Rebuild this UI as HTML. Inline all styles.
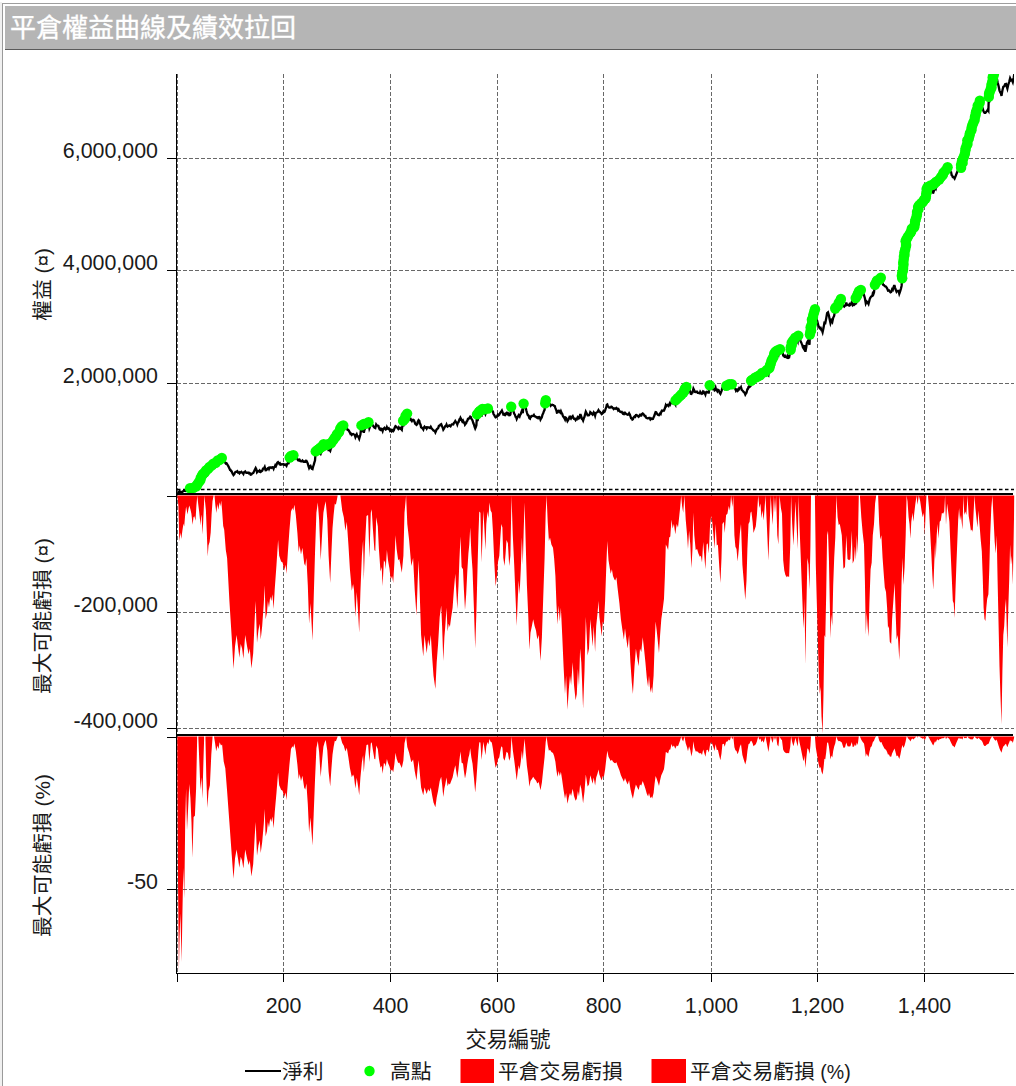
<!DOCTYPE html>
<html lang="zh-Hant">
<head>
<meta charset="utf-8">
<title>平倉權益曲線及績效拉回</title>
<style>
html,body{margin:0;padding:0;background:#fff;}
body{width:1016px;height:1086px;position:relative;overflow:hidden;font-family:"Liberation Sans","Noto Sans CJK TC",sans-serif;}
#frame{position:absolute;left:0;top:2px;width:2px;height:1086px;background:#f0f0f0;}
#win{position:absolute;left:2px;top:3px;width:1020px;height:1090px;background:#fff;border-left:1px solid #9a9a9a;border-top:1px solid #9e9e9e;box-sizing:border-box;}
#title{position:absolute;left:5px;top:6px;width:1011px;height:43px;background:#b5b5b5;border-bottom:1px solid #5a5a5a;color:#fff;font-size:26px;-webkit-text-stroke:0.35px #fff;line-height:44.5px;padding-left:5px;box-sizing:content-box;white-space:nowrap;letter-spacing:0px;}
svg{position:absolute;left:0;top:0;}
svg text{font-family:"Liberation Sans","Noto Sans CJK TC",sans-serif;font-size:21.4px;fill:#1a1a1a;}
</style>
</head>
<body>
<div id="frame"></div>
<div id="win"></div>
<div id="title">平倉權益曲線及績效拉回</div>
<svg width="1016" height="1086" viewBox="0 0 1016 1086">
<defs><clipPath id="cp1"><rect x="177" y="74" width="837" height="421"/></clipPath>
<clipPath id="cp2"><rect x="177" y="495" width="837.5" height="239.5"/></clipPath>
<clipPath id="cp3"><rect x="177" y="736" width="837.5" height="237"/></clipPath></defs>
<g stroke="#686868" stroke-width="1" stroke-dasharray="3.5 2.5" shape-rendering="crispEdges"><line x1="177.5" y1="74" x2="177.5" y2="973"/><line x1="283.5" y1="74" x2="283.5" y2="973"/><line x1="390.5" y1="74" x2="390.5" y2="973"/><line x1="497.5" y1="74" x2="497.5" y2="973"/><line x1="603.5" y1="74" x2="603.5" y2="973"/><line x1="711.5" y1="74" x2="711.5" y2="973"/><line x1="817.5" y1="74" x2="817.5" y2="973"/><line x1="924.5" y1="74" x2="924.5" y2="973"/><line x1="177" y1="158.5" x2="1013.8" y2="158.5"/><line x1="177" y1="270.5" x2="1013.8" y2="270.5"/><line x1="177" y1="383.5" x2="1013.8" y2="383.5"/><line x1="177" y1="612.5" x2="1013.8" y2="612.5"/><line x1="177" y1="728.5" x2="1013.8" y2="728.5"/><line x1="177" y1="889.5" x2="1013.8" y2="889.5"/></g>
<line x1="177" y1="489.5" x2="1014" y2="489.5" stroke="#000" stroke-width="1.3" stroke-dasharray="3.5 2.5"/>
<path d="M177.3,495.6L177.3,495.6L178.4,505.6L179.3,541.2L180.5,532.4L181.3,538.9L182.4,530.6L183.5,523.5L184.2,526.5L185.2,514.5L186.1,506.5L186.8,510.2L187.5,514.5L188.4,509.3L189.3,505.6L190.4,509.3L191.4,513.8L192.6,524.7L193.5,517.2L194.4,516.3L195.5,520.8L196.4,505.6L197.3,495.6L198.2,504L199.2,512L200.6,525.6L201.2,514.5L201.7,518.1L202.6,534.4L203.5,514.5L204.4,495.6L205,501.3L205.9,510.2L206.8,532.4L207.7,556.6L208.5,545.5L209.6,542.1L210.7,532.4L211.6,514.5L212.5,501.3L213.6,495.6L214.5,495.6L215.4,505.6L216.4,512.9L217.3,504L218.3,509.7L219.2,504.7L219.8,502.2L220.5,506.5L221.2,500.4L222.1,510.2L223.2,526L224.2,529.7L225.8,550L227.1,558L229.4,601L231.7,637.3L233.5,669L235,646.4L236.6,635L238,646.4L239.4,657.7L240.7,644.1L242.1,648.6L243.4,658.8L245.2,635L247.1,646.4L248.6,654.3L249.8,648.6L251.4,668.6L253.2,653.2L254.8,616.9L255.7,601L257,643L258.4,630.5L259.7,623.7L260.7,639.6L262.2,626L263.8,603.3L264.7,585.2L265.6,619.2L267,612.4L267.9,601L269,607.8L270.2,596.5L271.3,601L272.4,594.2L273.6,609L274.7,589.7L276.5,564.8L278.1,539.9L279.2,555.7L281.1,561.4L282.6,562.5L284.2,570.4L285.6,564.8L286.5,573.8L287.8,553.4L289.4,530.8L291,511.5L292.4,508.1L293.3,510.4L294.4,504.7L295.8,514.9L297.4,533.1L298.7,552.3L299.6,545.5L301,554.6L302.4,547.8L304.2,563.6L305.3,565.9L306.4,558L307.8,585.2L309.1,623.7L310.5,603.3L312.5,640.7L313.7,598.8L315,553.4L316.4,512.7L317.8,502.5L319.1,519.5L320.7,560.2L322.3,530.8L323.4,512.7L324.6,505.9L325.7,501.3L327.3,519.5L328.6,555.7L330.2,582.9L331.4,553.4L332.5,528.5L333.6,514.9L334.8,503.6L335.9,504.7L337.7,495.6L339.3,495.6L340.4,495.6L342.2,510.4L343.8,517.2L345.4,530.8L346.8,521.7L348.4,544.4L349.9,569.3L351.8,590.8L353.1,584L354,589.7L355.4,616.9L356.7,592L358.1,612.4L359.2,632.8L360.4,592L361.9,555.7L363.1,539.9L363.8,580.6L364.9,546.7L366.5,516.1L368.1,514.9L369.4,558L370.8,512.7L371.7,509.3L372.8,527.4L374.4,550L375.3,551.2L376.2,517.2L377.8,526.3L378.9,548.9L380.5,571.6L381.7,567L382.6,586.3L383.9,560.2L385.1,562.5L385.7,569.3L386.9,550L388,560.2L389.4,568.2L390.7,579.5L392.1,576.1L393.2,582.9L394.4,562.5L395.5,535.3L396.6,548.9L398.2,560.2L399.3,559.1L400,562.5L401.8,572.7L403.4,555.7L404.5,512.7L406.1,495.6L407.3,524L409.1,539.9L411.3,565.9L413.1,558L414.7,589.7L416.5,615.8L417.7,580.6L418.6,560.2L419.9,598.8L421.1,635L422.2,646.4L423.3,656.6L424.5,635L425.6,644.1L426.7,653.2L428.1,639.6L429.5,646.4L430.8,635L432.2,657.7L433.5,675.8L435.4,689L436.7,662.2L438.1,644.1L439.7,616.9L441.2,605.6L442.1,626L443.3,661.1L444.4,637.3L445.3,626L446.5,607.8L447.6,631.6L448.7,623.7L449.9,627.1L451.2,616.9L452.6,607.8L453.9,589.7L455.3,573.8L456.2,589.7L457.3,609L458.5,585.2L459.4,560.2L460.5,536.5L461.6,567L463,569.3L463.9,589.7L465,610.1L466.2,594.2L467.3,571.6L468.4,553.4L469.3,544.4L470.2,527.4L471.4,553.4L472.5,569.3L473.9,607.8L475.2,648.6L476.4,612.4L477.5,569.3L478.4,535.3L479.3,511.5L480.4,512.7L481.6,562.5L482.7,530.8L483.4,510.4L484.5,530.8L485.4,550L486.3,524L487.5,511.5L488.4,518.3L489.5,502.5L490.6,510.4L491.8,512.7L492.9,530.8L494.3,562.5L495.6,586.3L497,576.1L497.9,562.5L499.3,555.7L500.2,539.9L501.3,524L502.4,527.4L503.3,558L504.5,565.9L505.6,553.4L506.5,539.9L507.9,543.3L509.2,565.9L510.4,555.7L511.5,495.6L512.8,535.3L514.2,564.8L515.6,598.8L516.7,626L517.8,598.8L518.7,580.6L519.6,594.2L520.8,569.3L521.9,537.6L522.8,564.8L523.7,530.8L524.6,502.5L525.8,546.7L526.9,585.2L528.3,616.9L529.4,649.8L530.5,632.8L531.9,626L533.2,619.2L534.6,626L536,630.5L537.3,639.6L538.7,635L540.5,661.1L541.9,637.3L543.2,598.8L544.6,558L545.7,512.7L546.6,495.6L547.7,521.7L548.9,541L550,537.6L551.4,544.4L553,547.8L554.1,558L555.4,576.1L556.4,603.3L557.5,624.8L558.6,605.6L559.8,621.4L560.9,607.8L562.2,635L563.6,666.8L565,693.9L566.1,675.8L567.5,709.8L568.8,689.4L570,675.8L571.1,684.9L572.7,662.2L574,684.9L575.6,700.3L576.8,693.9L577.9,669L579,686L580.1,648.6L581.3,662.2L583.1,708.7L584.5,671.3L585.8,616.9L586.7,635L587.6,655.4L589,648.6L590.3,619.2L591.7,635L592.6,646.4L593.7,626L595.1,652L596.2,626L597.6,612.4L598.5,601L599.4,616.9L600.5,626L601.7,636.2L602.8,621.4L603.9,623.7L605.1,601L606.2,569.3L607.3,541L608.5,560.2L609.8,568.2L610.7,573.8L611.9,569.3L613,576.1L614.4,579.5L615.3,580.6L616.4,577.2L617.5,587.4L619.4,603.3L620.9,619.2L622.5,630.5L623.9,639.6L625,628.2L626.4,639.6L627.7,648.6L629.1,635L630.4,662.2L631.8,682.6L632.9,693.9L634.5,666.8L635.9,648.6L637.2,657.7L638.6,666.3L640,648.6L641.3,652L642.7,637.3L644,648.6L645.4,662.2L646.8,678.1L648.1,687.1L649,675.8L650.4,692.8L651.3,687.1L652.2,693.5L653.6,675.8L654.5,648.6L655.6,621.4L656.7,630.5L658.1,644.1L659,653.2L660.1,635L661.3,619.2L662.6,610.1L664,598.8L664.9,576.1L665.8,544.4L666.9,546.7L668.1,550L669.2,537.6L670.3,536.5L671.5,519.5L672.6,528.5L673.9,524L675.3,534.2L676.7,524L678,527.4L678.9,519.5L680.1,508.1L681.2,495.6L682.1,505.9L683.2,512.7L684.4,495.6L685.7,519.5L687.1,535.3L688,548.9L689.1,530.8L690.3,544.4L691.4,568.2L692.5,548.9L693.4,512.7L694.3,535.3L695.7,550L697.1,548.9L698.4,553.4L699.8,556.8L700.9,555.7L702,562.5L703.2,542.1L704.3,555.7L705.4,569.3L706.6,544.4L707.7,543.3L708.8,553.4L710,526.3L711.1,516.1L712.2,521.7L713.4,534.2L714.5,548.9L715.6,524L716.8,545.5L717.9,544.4L719.3,567L720.4,582.9L721.5,558L722.4,524L723.8,521.7L724.7,533.1L726.1,514.9L727.4,513.8L728.8,505.9L729.9,510.4L731.1,495.6L732.4,507L733.3,495.6L734.4,535.3L735.4,546.7L736.5,548.9L737.6,561.4L738.8,548.9L739.9,533.1L741,524L742.4,564.8L743.7,580.6L745.3,599.9L746.5,580.6L747.4,548.9L748.5,524L749.6,521.7L750.5,512.7L751.4,511.5L752.6,521.7L753.5,533.1L754.6,529.7L755.8,526.3L756.9,514.9L758.2,495.6L759.4,508.1L760.5,503.6L761.4,518.3L762.5,510.4L763.7,520.6L764.6,508.1L765.5,495.6L766.6,519.5L767.5,539.9L768.4,560.7L769.6,526.3L770.7,495.6L771.8,512.7L772.7,525.1L773.9,495.6L775,512.7L776.1,495.6L777.3,535.3L778.4,544.4L779.5,495.6L780.9,508.1L782,513.8L783.2,560.2L784.3,570.4L785.4,575L786.8,577.2L787.9,576.1L789.1,577.2L790.2,546.7L791.1,495.6L792.2,524L793.4,545.5L794.5,524L795.4,501.3L796.5,524L797.7,548.9L798.6,495.6L799.5,526.3L800.6,553.4L801.8,585.2L802.9,614.6L803.8,628.2L804.5,598.8L805.4,664.5L806.3,612.4L807.4,558L808.5,564.8L809.5,589.7L810.4,546.7L811,495.6L814.9,495.6L815.8,564.8L816.7,598.8L817.6,630.5L818.7,671.3L819.7,693.9L820.6,687.1L821.5,716.6L822.6,733.6L823.5,693.9L824.4,635L825.3,637.3L826.2,594.2L827.1,535.3L828,530.8L828.9,558L829.8,603.3L830.5,638.4L831.4,614.6L832.3,626L833.2,585.2L834.2,558L835.3,537.6L836.4,495.6L837.6,517.2L838.7,525.1L839.8,524L841.8,535.3L843.4,568.8L845,567L846.3,535.3L847.5,559.1L849.1,560.2L850.4,559.1L851.8,530.8L852.7,563.6L854,560.2L854.9,546.6L855.9,560.2L856.8,535.3L857.7,553.4L858.8,495.6L859.9,495.6L861.3,517.2L862.7,533L864,544.4L864.9,580.6L865.8,635L866.7,612.3L867.6,625.9L868.5,636.8L869.4,603.3L870.6,569.3L871.7,562.5L872.8,535.3L874,524L875.1,503.6L876.2,495.6L878.1,495.6L879.2,524L880.3,539.8L881.4,535.3L882.6,558L883.9,576.1L884.8,587.4L886,591.9L887.1,607.8L888,628.2L888.9,625.9L889.8,641.8L891.2,644L892.1,619.1L893.5,598.7L894.6,582.9L895.7,614.6L896.6,639.5L897.8,635L899.3,660.3L900.5,625.9L901.6,580.6L902.5,558L903.4,585.1L904.6,567L905.7,535.3L906.6,495.6L907.5,501.3L908.6,517.2L909.5,524L910.4,538.7L911.3,521.7L912.5,512.7L913.4,521.7L914.3,512.7L915.4,503.6L916.6,495.6L917.5,504.7L918.8,495.6L920.2,501.3L921.5,510.4L922.7,517.2L923.8,512.7L924.7,535.3L925.6,512.7L926.5,495.6L927.9,495.6L929,508.1L930.1,530.8L931.3,553.4L932.4,576.1L933.3,589.7L934.2,564.7L935.1,542.1L935.8,559.1L936.7,535.3L937.6,524L938.5,538.7L939.7,521.7L940.8,520.6L941.9,512.7L943.1,513.8L944.2,511.5L945.1,495.6L946,525.1L947.1,503.6L948.3,512.7L949.4,521.7L950.5,548.9L951.7,576.1L952.8,601L953.7,603.3L954.6,618L955.5,589.7L956.4,564.7L957.3,542.1L958.2,519.4L959.1,508.1L960,520.6L961,514.9L961.9,524L962.5,529.6L963.4,495.6L964.3,514.9L965.3,511.5L966.4,514.9L967.5,495.6L968.7,516L969.8,522.8L970.9,530.8L972,529.6L972.7,531.9L973.6,512.7L974.5,495.6L975.4,508.1L976.6,519.4L977.5,527.4L978.4,510.4L979.5,524L980.7,539.8L981.8,551.2L982.7,576.1L983.6,607.8L984.5,619.1L985.4,620.9L986.3,607.8L987.2,598.7L988.4,594.2L989.3,569.3L990.2,535.3L991.3,508.1L992.4,495.6L993.6,519.4L994.7,542.1L995.8,553.4L996.7,535.3L997.6,580.6L998.6,625.9L999.5,666.7L1000.4,693.9L1001.5,724.4L1002.4,671.2L1003.3,635L1004.2,625.9L1005.1,607.8L1006,598.7L1006.7,625.9L1007.4,647.4L1008.3,607.8L1009.2,580.6L1010.1,544.4L1011,564.7L1011.9,555.7L1012.8,585.1L1013.7,535.3L1014.4,495.6L1014.3,495.6 L1014.3,495.6 Z" fill="#ff0000" clip-path="url(#cp2)"/>
<path d="M177.3,736.6L177.3,736.6L177.4,781.9L178.1,890.6L178.9,971.3L179.6,935.9L180.4,913.3L181.6,962L182.4,914L183.3,868L184.3,898.6L185.2,822.6L186.1,788.7L187,830.6L188.1,809L189.3,784.1L190.4,797.7L191.5,822.6L192.4,857.8L193.6,817L194.9,815.8L196.1,788.7L197.2,736.6L198.3,736.6L199.5,766L200.4,789.8L201.5,777.3L202.4,798.8L203.3,766L204.2,736.6L205.4,736.6L206.3,777.3L207.4,807.9L208.5,790.9L209.9,785.3L211.3,754.7L212.6,736.6L214,736.6L215.1,743.3L216.2,751.3L217.4,745.6L218.5,749L219.6,742.2L221,745.6L222.1,744.5L223.7,761.5L225.3,768.3L227.1,790.9L229.4,822.6L231.7,854.4L233.5,878.8L235,858.5L236.6,849.4L238,858.5L239.4,867.7L240.7,856.7L242.1,860.4L243.4,868.6L245.2,849.4L247.1,858.5L248.6,865L249.8,860.4L251.4,876.5L253.2,864L254.8,834.7L255.7,821.9L257,855.8L258.4,845.7L259.7,840.2L260.7,853L262.2,842L263.8,823.7L264.7,809L265.6,836.5L267,831L267.9,821.9L269,827.4L270.2,818.2L271.3,821.9L272.4,816.4L273.6,828.3L274.7,812.7L276.5,792.6L278.1,772.4L279.2,785.2L281.1,789.8L282.6,790.7L284.2,797.1L285.6,792.6L286.5,799.9L287.8,783.4L289.4,765.1L291,749L292.4,746.2L293.3,747.7L294.4,743.5L295.8,751.1L297.4,764.7L298.7,779.2L299.6,774.1L301,780.9L302.4,775.8L304.2,787.7L305.3,789.4L306.4,783.5L307.8,803.9L309.1,832.8L310.5,817.5L312.5,845.6L313.7,814.1L315,780.1L316.4,748.2L317.8,741.1L319.1,752L320.7,777L322.3,757.9L323.4,746.7L324.6,742.6L325.7,740L327.3,750.6L328.6,771.8L330.2,786.4L331.4,769L332.5,754.7L333.6,747L334.8,740.8L335.9,741.2L337.7,736.6L339.3,736.6L340.4,736.6L342.2,743L343.8,745.8L345.4,751.6L346.8,747.8L348.4,757.4L349.9,768.1L351.8,777.3L353.1,774.4L354,776.8L355.4,788.4L356.7,777.8L358.1,786.5L359.2,795.2L360.4,777.8L361.9,762.2L363.1,755.3L363.8,772.5L364.9,758L366.5,745.1L368.1,744.5L369.4,762.1L370.8,743.6L371.7,742.2L372.8,749.6L374.4,758.9L375.3,759.3L376.2,745.4L377.8,749.1L378.9,758.4L380.5,767.7L381.7,765.8L382.6,773.7L383.9,763L385.1,764L385.7,766.7L386.9,758.9L388,763L389.4,766.3L390.7,770.9L392.1,769.5L393.2,772.3L394.4,764L395.5,752.8L396.6,758.4L398.2,763L399.3,762.6L400,764L401.8,768.1L403.4,760.5L404.5,743.2L406.1,736.6L407.3,747L409.1,752.7L411.3,762.3L413.1,759.4L414.7,770.9L416.5,780.5L417.7,767.6L418.6,760.2L419.9,774.2L421.1,787.5L422.2,791.6L423.3,795.3L424.5,787.5L425.6,790.8L426.7,794.1L428.1,789.1L429.5,791.6L430.8,787.5L432.2,795.7L433.5,802.4L435.4,807.2L436.7,797.4L438.1,790.8L439.7,780.9L441.2,776.7L442.1,784.2L443.3,797L444.4,788.3L445.3,784.2L446.5,777.6L447.6,786.2L448.7,783.3L449.9,784.6L451.2,780.9L452.6,777.6L453.9,770.9L455.3,765.2L456.2,770.9L457.3,778L458.5,769.3L459.4,760.2L460.5,751.5L461.6,762.7L463,763.5L463.9,770.9L465,778.4L466.2,772.6L467.3,764.3L468.4,757.7L469.3,754.4L470.2,748.2L471.4,757.7L472.5,763.5L473.9,777.6L475.2,792.4L476.4,779.2L477.5,763.6L478.4,751L479.3,742.3L480.4,742.6L481.6,759.9L482.7,748.7L483.4,741.7L484.5,748.7L485.4,755.3L486.3,746.4L487.5,742.1L488.4,744.4L489.5,739L490.6,741.7L491.8,742.5L492.9,748.7L494.3,759.6L495.6,767.7L497,764.2L497.9,759.6L499.3,757.2L500.2,751.8L501.3,746.3L502.4,747.5L503.3,758L504.5,760.7L505.6,756.5L506.5,751.8L507.9,753L509.2,760.7L510.4,757.2L511.5,736.6L512.8,750L514.2,759.9L515.6,771.3L516.7,780.5L517.8,771.3L518.7,765.2L519.6,769.8L520.8,761.4L521.9,750.7L522.8,759.9L523.7,748L524.6,738.8L525.8,753.2L526.9,765.7L528.3,776L529.4,786.7L530.5,781.1L531.9,778.9L533.2,776.7L534.6,778.9L536,780.4L537.3,783.4L538.7,781.9L540.5,790.3L541.9,782.6L543.2,770.1L544.6,756.9L545.7,742L546.6,736.6L547.7,744.8L548.9,750.8L550,749.7L551.4,751.9L553,752.9L554.1,756.1L555.4,761.8L556.4,770.3L557.5,777.1L558.6,771L559.8,776L560.9,771.7L562.2,780.2L563.6,790.2L565,798.7L566.1,793L567.5,803.7L568.8,797.3L570,793L571.1,795.9L572.7,788.8L574,795.9L575.6,800.7L576.8,798.7L577.9,790.9L579,796.2L580.1,784.5L581.3,788.8L583.1,803.3L584.5,791.6L585.8,774.6L586.7,780.2L587.6,786.6L589,784.5L590.3,775.3L591.7,780.2L592.6,783.8L593.7,777.4L595.1,785.6L596.2,777.4L597.6,773.2L598.5,769.6L599.4,774.6L600.5,777.4L601.7,780.6L602.8,776L603.9,776.7L605.1,769.6L606.2,759.7L607.3,750.8L608.5,756.8L609.8,759.3L610.7,761.1L611.9,759.7L613,761.8L614.4,762.9L615.3,763.2L616.4,762.2L617.5,765.4L619.4,770.3L620.9,775.3L622.5,778.8L623.9,781.7L625,778.1L626.4,781.7L627.7,784.5L629.1,780.2L630.4,788.8L631.8,795.1L632.9,798.7L634.5,790.2L635.9,784.5L637.2,787.3L638.6,790L640,784.5L641.3,785.6L642.7,781L644,784.5L645.4,788.8L646.8,793.7L648.1,796.6L649,793L650.4,798.3L651.3,796.6L652.2,798.6L653.6,793L654.5,784.5L655.6,776L656.7,778.8L658.1,783.1L659,785.9L660.1,780.2L661.3,775.3L662.6,772.4L664,768.9L664.9,761.8L665.8,751.9L666.9,752.6L668.1,753.6L669.2,749.7L670.3,749.4L671.5,744.1L672.6,746.9L673.9,745.5L675.3,748.7L676.7,745.4L678,746.3L678.9,743.8L680.1,740.4L681.2,736.6L682.1,739.6L683.2,741.5L684.4,736.6L685.7,743.2L687.1,747.5L688,751.2L689.1,746.3L690.3,750L691.4,756.5L692.5,751.2L693.4,741.3L694.3,747.5L695.7,751.6L697.1,751.2L698.4,752.5L699.8,753.4L700.9,753.1L702,755L703.2,749.4L704.3,753.1L705.4,756.8L706.6,750L707.7,749.7L708.8,752.5L710,744.9L711.1,742.1L712.2,743.7L713.4,747L714.5,751L715.6,744.3L716.8,750.1L717.9,749.8L719.3,755.9L720.4,760.2L721.5,753.5L722.4,744.3L723.8,743.7L724.7,746.7L726.1,741.8L727.4,741.5L728.8,739.4L729.9,740.6L731.1,736.6L732.4,739.6L733.3,736.6L734.4,747.2L735.4,750.3L736.5,750.9L737.6,754.2L738.8,750.9L739.9,746.6L741,744.2L742.4,755.1L743.7,759.4L745.3,764.5L746.5,759.4L747.4,750.9L748.5,744.2L749.6,743.6L750.5,741.2L751.4,740.7L752.6,743.3L753.5,746.2L754.6,745.3L755.8,744.3L756.9,741.5L758.2,736.6L759.4,739.7L760.5,738.6L761.4,742.2L762.5,740.2L763.7,742.7L764.6,739.6L765.5,736.6L766.6,742.3L767.5,747.1L768.4,751.9L769.6,743.7L770.7,736.6L771.8,740.4L772.7,743L773.9,736.6L775,740.2L776.1,736.6L777.3,744.8L778.4,746.6L779.5,736.6L780.9,739.1L782,740.3L783.2,749.7L784.3,751.8L785.4,752.7L786.8,753.2L787.9,753L789.1,753.2L790.2,747L791.1,736.6L792.2,742.1L793.4,746.2L794.5,742L795.4,737.7L796.5,741.9L797.7,746.5L798.6,736.6L799.5,742.3L800.6,747.3L801.8,753.2L802.9,758.7L803.8,761.2L804.5,755.8L805.4,768L806.3,758.3L807.4,748.2L808.5,749.5L809.5,754.1L810.4,745.9L811,736.6L814.9,736.6L815.8,747.6L816.7,753L817.6,758.1L818.7,764.6L819.7,768.2L820.6,767.1L821.5,771.8L822.6,774.5L823.5,768.2L824.4,758.8L825.3,759.2L826.2,752.3L827.1,742.9L828,742.2L828.9,746.5L829.8,753.8L830.5,759.4L831.4,755.6L832.3,757.4L833.2,750.9L834.2,746.5L835.3,743.3L836.4,736.6L837.6,740L838.7,741.2L839.8,740.9L841.8,742.6L843.4,747.7L845,747.4L846.3,742.6L847.5,746.2L849.1,746.4L850.4,746.2L851.8,741.9L852.7,746.9L854,746.4L854.9,744.3L855.9,746.3L856.8,742.5L857.7,745.1L858.8,736.6L859.9,736.6L861.3,739.7L862.7,742L864,743.6L864.9,748.9L865.8,756.7L866.7,753.4L867.6,755.4L868.5,757L869.4,752.1L870.6,747.2L871.7,746.3L872.8,742.3L874,740.7L875.1,737.7L876.2,736.6L878.1,736.6L879.2,740.5L880.3,742.6L881.4,742L882.6,745.1L883.9,747.6L884.8,749.1L886,749.7L887.1,751.9L888,754.7L888.9,754.3L889.8,756.5L891.2,756.8L892.1,753.4L893.5,750.6L894.6,748.5L895.7,752.8L896.6,756.2L897.8,755.6L899.3,759L900.5,754.3L901.6,748.2L902.5,745L903.4,748.1L904.6,745.4L905.7,741.3L906.6,736.6L907.5,737.3L908.6,739.1L909.5,739.8L910.4,741.5L911.3,739.5L912.5,738.5L913.4,739.5L914.3,738.5L915.4,737.5L916.6,736.6L917.5,737.6L918.8,736.6L920.2,737.2L921.5,738.1L922.7,738.8L923.8,738.3L924.7,740.6L925.6,738.3L926.5,736.6L927.9,736.6L929,737.8L930.1,740L931.3,742.1L932.4,744.3L933.3,745.5L934.2,743.2L935.1,741L935.8,742.6L936.7,740.3L937.6,739.3L938.5,740.6L939.7,739L940.8,738.9L941.9,738.2L943.1,738.3L944.2,738.1L945.1,736.6L946,739.3L947.1,737.3L948.3,738.1L949.4,739L950.5,741.4L951.7,743.9L952.8,746.1L953.7,746.3L954.6,747.6L955.5,745.1L956.4,742.8L957.3,740.8L958.2,738.8L959.1,737.7L960,738.9L961,738.3L961.9,739.1L962.5,739.6L963.4,736.6L964.3,738.3L965.3,738L966.4,738.2L967.5,736.6L968.7,738.3L969.8,738.8L970.9,739.5L972,739.3L972.7,739.5L973.6,737.9L974.5,736.6L975.4,737.6L976.6,738.4L977.5,739L978.4,737.7L979.5,738.7L980.7,739.9L981.8,740.8L982.7,742.6L983.6,745L984.5,745.9L985.4,746L986.3,745L987.2,744.3L988.4,744L989.3,742L990.2,739.5L991.3,737.5L992.4,736.6L993.6,738.3L994.7,739.9L995.8,740.7L996.7,739.4L997.6,742.6L998.6,745.7L999.5,748.6L1000.4,750.5L1001.5,752.7L1002.4,748.9L1003.3,746.4L1004.2,745.7L1005.1,744.5L1006,743.8L1006.7,745.7L1007.4,747.3L1008.3,744.5L1009.2,742.6L1010.1,740L1011,741.5L1011.9,740.8L1012.8,742.9L1013.7,739.4L1014.4,736.6L1014.3,736.6 L1014.3,736.6 Z" fill="#ff0000" clip-path="url(#cp3)"/>
<g clip-path="url(#cp1)">
<polyline points="177.3,494 179.5,491.2 181.5,492.3 184,490.7 186,491.1 188.5,489.6 189.3,489.8 190,487.9 190.4,489.6 191.4,489.5 192,490.2 192.6,490.4 193.5,489.6 193.5,487.7 194.4,489.6 194.9,488.7 195.5,489 196.4,487.4 196.5,486.7 197.3,485 198.2,484 198.6,482.9 199.2,482.4 199.9,482.6 200.6,481 200.7,477.7 201.2,478.7 201.7,478.2 202.6,478.7 203,473.7 203.5,475.3 204.4,472.5 205,472.1 205.9,472.1 206,470.2 206.8,472.9 207.7,474.5 208.5,472.9 209.5,466.9 209.6,471.3 210.2,470.6 210.7,469.5 211.6,466.9 212.5,465.2 213.3,464 213.6,463.4 214.5,463 215.4,463.2 216.4,463.4 217.3,461.8 217.7,460.3 218.3,461.9 219.2,460.2 219.8,459.8 220.5,460.1 221.2,458.6 221.8,458 222.1,459 223.2,461.1 224.2,461.5 225,462.4 225.8,463.6 226.5,463.3 227.1,464.2 227.7,465.2 228.3,466.2 228.8,467.1 229.4,468.4 230,469.9 230.5,469.9 231.1,471.1 231.7,471.3 232.3,473.1 232.9,474 233.5,475.1 234.3,474.2 235,472.4 235.8,471.8 236.6,471.6 237.3,471.1 238,472.5 238.7,472.5 239.4,473.3 240,472.2 240.7,472.5 241.4,471.9 242.1,472.6 242.8,473.1 243.4,474 244,472.2 244.6,472.1 245.2,471.5 245.9,472.5 246.5,472.8 247.1,472.8 247.9,472.5 248.6,473.2 249.2,472.8 249.8,473.1 250.6,474.6 251.4,474.4 252,473.6 252.6,473.2 253.2,473 254,471.4 254.8,469.8 255.7,468 256.4,469.3 257,472.2 257.7,471.4 258.4,471.1 259.1,471.5 259.7,470.5 260.7,471.9 261.4,471.4 262.2,470.7 263,468.7 263.8,468.7 264.7,466.9 265.6,470.2 266.3,470.1 267,469.2 267.9,468.1 268.5,467.8 269,468.9 269.6,467.5 270.2,467.4 270.7,467.4 271.3,467.9 271.9,467.6 272.4,467.2 273,467.3 273.6,468.7 274.1,467.3 274.7,467 275.3,465.4 275.9,466.2 276.5,464.8 277.3,462.8 278.1,462.1 278.7,462.8 279.2,463.7 279.8,463.3 280.4,464.8 281.1,464.7 281.8,464.3 282.6,464.4 283.4,464.1 284.2,464.9 284.9,464.7 285.6,464.5 286.5,465.8 287.2,463.9 287.8,463.2 288.6,463.3 289.4,461.4 289.7,457.2 290.4,457.9 291,457.8 291.7,457.7 292.4,457.4 293.3,457 293.4,455.4 294.4,455.9 295.1,456.3 295.8,456.8 296.6,458.4 297.4,458.8 298,460.3 298.7,460.5 299.6,459.8 300.3,461 301,461.3 301.7,461.2 302.4,460.5 303,461.3 303.6,461.7 304.2,461.5 304.7,461.9 305.3,461.9 305.9,460.7 306.4,460.8 307.1,462.1 307.8,463.6 308.5,466.1 309.1,467.9 309.8,466.5 310.5,465.9 311.2,467.7 311.9,468.8 312.5,469.1 313.1,466.7 313.7,464.9 314.4,462.4 315,460.5 315.7,451.5 316.4,452.9 317.1,452.2 317.8,450.6 318.3,450.1 318.9,449.3 319.1,450.8 319.9,452.6 320.7,453.8 321.5,451.8 322.3,449.2 322.9,447.5 323.4,445.9 323.6,444.5 324.6,445.2 325.1,445.6 325.7,445.2 326.5,445.5 327.3,446.5 328.3,444.7 328.6,450 329.4,449.9 330.2,450.9 330.8,448.6 331.4,447.7 331.9,446.3 332.5,443.8 333.1,440.7 333.6,441.8 334.2,440.3 334.8,438.4 335.3,437.7 335.9,436.5 336.4,434.5 337,434.5 337.7,433 338.5,431.6 339.3,430.5 340.2,428.5 340.4,428.7 341,428.9 341.6,427.5 342.2,427.7 343.3,425.2 343.8,427.3 344.6,428.3 345.4,428.6 346.1,428.2 346.8,427.6 347.6,429.9 348.4,430 349.1,431.2 349.9,432.6 350.5,434 351.1,433.7 351.8,434.9 352.4,434.3 353.1,434 354,434.5 354.7,434.8 355.4,437.1 356.1,435.3 356.7,434.3 357.4,436.3 358.1,436.4 358.7,437.6 359.2,438.8 359.8,436.8 360.4,434.6 361.4,425.4 361.9,431 362.5,430.6 363.1,428.7 363.8,432.8 364.3,430.4 364.9,428.8 365.4,424.1 366.5,425.3 367.3,425 368.1,424.6 368.5,422.6 369.4,428.3 370.1,426.4 370.8,424 371.7,423.6 372.3,424.9 372.8,425.3 373.6,426.5 374.4,427.5 375.3,428 376.2,424.5 377,425.6 377.8,425.6 378.4,425.9 378.9,427.5 379.7,429.5 380.5,429.9 381.1,428.7 381.7,428.9 382.6,431 383.2,428.9 383.9,428.3 384.5,427.8 385.1,428.9 385.7,429.6 386.3,429.3 386.9,427.3 387.4,428.5 388,428.7 388.7,428.2 389.4,429.6 390,430.8 390.7,430.2 391.4,431.2 392.1,430 392.7,430.4 393.2,431.1 393.8,430.4 394.4,428.5 394.9,427.3 395.5,426.1 396.1,426.5 396.6,427.2 397.4,427.6 398.2,428.7 398.8,427.5 399.3,428.5 400,428.7 400.6,428.1 401.2,429.1 401.8,429.8 402.5,425.2 403.1,420.4 403.4,426.3 404,423.3 404.5,419.9 405.5,415.7 406.1,414.9 407.1,413.2 407.3,416.6 407.9,416.4 408.5,416.6 409.1,417.8 409.6,419.4 410.2,419.8 410.8,419.2 411.3,420.1 411.9,421 412.5,420 413.1,419.8 413.9,420.3 414.7,422.3 415.3,423.9 415.9,424.2 416.5,424.9 417.1,424.4 417.7,421.9 418.6,420.1 419.3,420.8 419.9,423.8 420.5,424.4 421.1,427.3 421.6,427.5 422.2,428 422.8,428.7 423.3,429.5 423.9,427.6 424.5,426.8 425,427.5 425.6,427.7 426.2,427.5 426.7,428.5 427.4,427.2 428.1,427.3 428.8,427.4 429.5,428 430.1,428.1 430.8,426.9 431.5,428.1 432.2,429 432.9,429.8 433.5,430.6 434.1,430.9 434.7,430.8 435.4,432.4 436,431.1 436.7,429.4 437.4,428.7 438.1,428.3 438.9,425.8 439.7,425.6 440.4,424.6 441.2,424.2 442.1,426.4 442.7,427.6 443.3,429.6 443.8,428.8 444.4,427.7 445.3,426.1 445.9,426 446.5,424.6 447,425.9 447.6,426.6 448.2,426 448.7,425.6 449.3,425.3 449.9,425.9 450.5,426.3 451.2,425.1 451.9,424.2 452.6,424.1 453.3,424.3 453.9,423 454.6,422.3 455.3,421 456.2,422.5 456.8,423.2 457.3,424.5 457.9,422.7 458.5,422.2 459.4,419.6 459.9,419.7 460.5,417.9 461.1,419.1 461.6,420.3 462.3,421.6 463,420.6 463.9,422.6 464.5,422.6 465,424.6 465.6,423.8 466.2,423.1 466.7,421.4 467.3,420.9 467.9,419 468.4,419 469.3,418 470.2,416.6 470.8,417 471.4,418.8 471.9,419.5 472.5,420.5 473.2,422.8 473.9,424.5 474.6,426.9 475.2,428.5 475.8,427.1 476.4,425.2 477,414.3 477.5,420.9 478.4,417.2 479.3,413.3 479.9,413.6 480.4,412.7 481,413.5 481.6,416.5 482.4,409.3 482.7,412.5 483.4,410.5 484,411.9 484.5,411.9 485.4,414 486.3,411.4 486.9,411.4 487.5,410.3 487.9,408.8 488.4,410.8 488.9,410.8 489.5,409.3 490.1,410 490.6,409.7 491.2,409 491.8,409.9 492.3,410.7 492.9,411.6 493.6,414.1 494.3,415 494.9,416.4 495.6,417.4 496.3,417.1 497,416.3 497.9,414.6 498.6,415.3 499.3,414.5 500.2,412.8 500.7,412.1 501.3,411.4 501.9,410.5 502.4,411.8 503.3,414.3 503.9,414 504.5,415.1 505,415.2 505.6,413.8 506.5,413 507.2,414 507.9,413.1 508.5,413.9 509.2,415.3 509.8,415.2 510.4,414.5 511.2,406.9 511.5,406.9 512.2,407.8 512.8,410.4 513.5,411.5 514.2,413.7 514.9,414.7 515.6,416.8 516.1,417 516.7,419 517.3,417.6 517.8,416.9 518.7,415.2 519.6,416.5 520.2,414.7 520.8,413.9 521.3,412.3 521.9,410.8 522.8,413.2 523.6,403.9 523.7,406.8 524.6,404.6 525.2,407.3 525.8,408.1 526.3,410.3 526.9,412.5 527.6,414.8 528.3,415.3 528.8,416.4 529.4,418.2 530,418.6 530.5,416.6 531.2,416.7 531.9,415.9 532.6,415.9 533.2,415.9 533.9,415 534.6,416.4 535.3,416.4 536,416.9 536.6,417.5 537.3,417.3 538,418.1 538.7,417 539.3,416.9 539.9,417.6 540.5,419.6 541.2,418.3 541.9,417.1 542.5,414.6 543.2,413.4 543.9,411.2 544.6,409.9 545.2,402.8 545.7,402.5 545.8,400.5 546.6,399.9 547.2,402.4 547.7,402.9 548.3,404.5 548.9,404.4 549.4,404.1 550,404.2 550.7,405.7 551.4,405 552.2,404.8 553,405.2 553.5,405.2 554.1,405.9 554.8,406.2 555.4,408.2 556.4,410.4 556.9,412.6 557.5,412.5 558.1,411.2 558.6,410.8 559.2,410.9 559.8,412.2 560.3,412.7 560.9,411.3 561.6,413 562.2,413.8 562.9,416.1 563.6,417.1 564.3,418.1 565,419.5 565.5,417.5 566.1,417.8 566.8,419.1 567.5,421.1 568.1,420.2 568.8,418.7 569.4,417.2 570,417.9 570.5,417.2 571.1,418.4 571.9,417 572.7,416.1 573.4,417.9 574,418.8 574.8,418.7 575.6,420.1 576.2,419.2 576.8,419.4 577.3,417.9 577.9,416.7 578.5,417 579,418.3 579.6,417.7 580.1,415 580.7,415 581.3,416.6 581.9,418.9 582.5,419.2 583.1,420.5 583.8,418.3 584.5,416.8 585.1,414.2 585.8,411.6 586.7,413.4 587.6,415.4 588.3,415.4 589,415.3 589.7,414.1 590.3,412.1 591,412.7 591.7,413.7 592.6,414.6 593.2,413.4 593.7,412.4 594.4,413.5 595.1,415.7 595.7,413.2 596.2,412.8 596.9,412.4 597.6,411.8 598.5,410.1 599.4,411.7 600,411.8 600.5,412.7 601.1,413.1 601.7,414.1 602.2,413.8 602.8,412.6 603.4,411.4 603.9,412.2 604.5,411.9 605.1,410.7 605.6,408.8 606.2,407.4 606.8,404.8 607.3,404.5 607.9,406.4 608.5,406.7 609.2,407.6 609.8,407.6 610.7,407.5 611.3,406.7 611.9,407 612.4,407.7 613,408.1 613.7,409.1 614.4,408.5 615.3,408.5 615.8,408.8 616.4,408 617,408.7 617.5,408.7 618.1,410.2 618.7,409.5 619.4,410.9 620.1,411.7 620.9,412 621.7,411.8 622.5,413 623.2,414 623.9,414.2 624.4,412.7 625,412.7 625.7,413.6 626.4,414.2 627,414.3 627.7,414.7 628.4,414.5 629.1,413.3 629.8,414.5 630.4,416.2 631.1,418.3 631.8,418.4 632.4,419.6 632.9,419.3 633.7,417.4 634.5,416.5 635.2,416.9 635.9,415.1 636.6,415 637.2,415.5 637.9,416.2 638.6,416.8 639.3,415.6 640,414.8 640.6,415.5 641.3,415.6 642,414 642.7,413.5 643.4,414.1 644,414.9 644.7,416 645.4,416 646.1,417.7 646.8,418 647.4,418.3 648.1,418.4 649,418 649.7,418 650.4,419.5 651.3,418.5 652.2,419.1 652.9,419 653.6,417.4 654.5,415.3 655,413.6 655.6,412.1 656.2,412.2 656.7,413.1 657.4,414.2 658.1,414.9 659,415.1 659.6,414.3 660.1,413.4 660.7,413.9 661.3,411.8 661.9,410.7 662.6,410.9 663.3,410.5 664,410.5 664.9,408.3 665.8,405.1 666.4,406.1 666.9,405.5 667.5,404.9 668.1,405.2 668.6,405.8 669.2,404.4 669.8,403.2 670.3,404.3 670.9,403.1 671.5,402.4 672,402.6 672.6,403.1 673.3,402.1 673.9,402.8 674.6,403.1 675.3,404.3 675.5,400.1 676.1,402.2 676.7,401.8 677.3,401.2 678,401.3 678.9,399.6 679.9,396 680.1,396.7 680.6,395.7 681.2,394.4 682.1,394.7 682.7,393.2 683.2,393.4 684.2,391 684.4,390 685,390.2 685.7,390.7 686.4,387.2 687.1,390.5 688,391.8 688.6,390.3 689.1,390.7 689.7,390.5 690.3,391.9 690.8,393.8 691.4,393.9 692,392.6 692.5,392.5 693.4,388.7 694.3,390.6 695,392 695.7,392.1 696.4,391.7 697.1,391.7 697.7,392.9 698.4,392.9 699.1,393.1 699.8,393.3 700.3,391.8 700.9,392.6 701.5,393.1 702,393.8 702.6,393.5 703.2,391.4 703.7,391.6 704.3,392.7 704.9,393.4 705.4,394.5 706,392.2 706.6,391.9 707.1,392.2 707.7,391.9 708.3,392.7 708.8,392.7 709.7,385.2 710,388.1 710.5,387.4 711.1,387.5 711.7,386.6 712.2,387.6 712.8,389 713.4,388.8 713.9,388.7 714.5,390.1 715.1,389.4 715.6,387.9 716.2,390.2 716.8,390.4 717.3,391.2 717.9,389.8 718.6,390.1 719.3,391.9 719.8,393 720.4,393.9 721,392.4 721.5,391.1 722.4,388 723.1,388.2 723.8,388 724.7,389.1 725.4,388.8 726.1,387.3 726.4,385.4 727.4,387.4 728.1,386.1 728.8,386.1 729.4,385.8 729.9,386.3 730.5,384.6 731.1,384.2 731.8,384 732.4,385 733.3,384.5 733.9,386.3 734.4,387.9 735.4,389 735.9,390.4 736.5,389.3 737.1,389.3 737.6,390.8 738.2,390.3 738.8,389.7 739.3,387.7 739.9,387.8 740.5,388.1 741,387.2 741.7,389.9 742.4,390.5 743.1,391.2 743.7,392.1 744.5,392.6 745.3,394.6 745.9,393.5 746.5,392.7 747.4,389.2 747.9,389 748.5,386.9 749.1,386.3 749.6,386.9 750.5,386.2 751.1,380.4 751.4,382.1 752,382.4 752.6,382 753.5,382.6 754.1,381.4 754.6,381.4 755.2,380.5 755.8,380.7 756.7,377.1 756.9,378.5 757.6,376.3 758.2,376 758.8,376.9 759.4,376.5 760.3,374.9 760.5,375.5 761.4,376.8 762,375.9 762.5,374.7 763.1,374.2 763.7,375.2 764.6,373.5 765,372.1 765.5,371.2 766.1,371.4 766.6,373 767.5,373.9 768.4,375 769.4,367.8 769.6,370.8 770.1,366.8 770.7,364.1 771.3,362.8 771.8,362.2 772.4,359.2 772.7,361.4 773.3,357.9 773.9,355.3 774.4,355.6 775,354.3 775.5,351.4 776.1,351.8 776.7,352.9 777.3,354.9 777.8,354.5 778.4,355.2 779,352.1 779.5,349.3 780,348.9 780.9,350.5 781.5,351.1 782,351.4 782.6,352.3 783.2,355.6 783.7,355.7 784.3,356.5 784.9,355.8 785.4,356.8 786.1,357.1 786.8,357.5 787.4,356.1 787.9,357.1 788.5,357.9 789.1,357.6 789.6,354.9 790.2,353.9 790.7,350.2 791.1,347.3 791.7,342.7 792.2,344.3 792.8,346 793.4,345 793.9,344.3 794.5,341.5 795.2,337.9 795.4,337.7 796,339.5 796.5,339.3 797.1,340.1 797.7,341.4 798.3,335.9 798.6,335.3 799.5,338.3 800.1,339.6 800.6,341.2 801.2,342.4 801.8,343.9 802.3,345 802.9,347.3 803.8,348.7 804.5,345.2 805.4,351.9 806.3,347.1 806.8,343 807.4,341.9 808,340.9 808.5,342.4 809.5,344.7 809.9,334.7 810.4,336.6 811,327.6 811.4,325.6 812.1,321.3 812.9,317.5 813.6,314.7 814.2,312.1 814.9,309.3 815,309.4 815.8,316 816.7,319 817.6,322.5 818.2,325.1 818.7,326.2 819.7,328.2 820.6,327.8 821.5,330.3 822,330.4 822.6,332.2 823.5,328.1 824.4,322.7 825.3,323 826.2,318.4 827.1,313.2 828,312.4 828.9,315.5 829.8,319.9 830.5,323.1 831.4,320.4 832.3,321.9 833.2,317.8 834.2,315.7 835.2,308.3 835.3,312.8 835.9,311 836.4,306.8 837,307.7 837.6,306.7 838.1,307.7 838.7,305.9 838.7,303.4 839.3,304.5 839.8,303.4 840.9,299.1 841.8,303.1 842.6,303.1 843.4,305.8 844.2,306.6 845,305.5 845.7,305.4 846.3,302.6 846.9,304.8 847.5,304.7 848.3,305.1 849.1,305.5 849.7,304.2 850.4,304.8 851.1,303.7 851.8,302.1 852.7,305.1 853.4,304.4 854,304.9 854.9,304.2 855.7,298.2 855.9,304.3 856.8,299.5 857.7,300 857.9,293.4 858.8,292.6 859.4,292.3 859.9,291.1 860.9,290.3 861.3,292.1 862,293.1 862.7,293.9 863.3,293 864,295.1 864.9,298.3 865.8,303.4 866.7,301.5 867.6,302.4 868.5,304 869.4,300.4 870,298.3 870.6,297.3 871.1,296.6 871.7,296.2 872.3,295.9 872.8,293.5 873.4,294.2 874,292.5 874.9,284.9 875.1,285.5 875.7,283.9 876.2,282.3 877.1,280.3 878.1,279.3 878.6,279.3 879.2,281.3 879.8,282.3 880.3,282.3 880.8,277.7 881.4,281.8 882,281.5 882.6,283.5 883.3,285 883.9,285.1 884.8,286.2 885.4,286.3 886,286.7 886.5,287.3 887.1,288.3 888,290.6 888.9,290.3 889.8,291.6 890.5,292.3 891.2,292 892.1,289.3 892.8,289.9 893.5,287.4 894,285.8 894.6,285.8 895.2,288.1 895.7,289.5 896.6,291.8 897.2,291.1 897.8,291 898.6,290.9 899.3,293.7 899.9,292.1 900.5,290.2 901,288.5 901.6,285.9 902.2,278.5 902.5,281.2 903,269.9 903.4,272.8 903.7,259.3 904.6,260.8 905.2,249.3 905.7,249.4 906.6,238.7 906.6,239.2 907.5,237.7 908.1,238.1 908.6,238.1 909.5,236.7 910.4,236.7 911.1,231.8 911.3,233.7 911.9,232.6 912.5,230.8 913.4,229.4 914.3,226.8 914.8,224.1 915.4,221.8 916,220.4 916.6,216.3 917,214.2 917.5,212.6 918.1,211 918.8,206.8 919.2,205.1 920.2,204.8 920.9,204.2 921.5,203.9 922.1,202.5 922.7,203.4 923.2,201.2 923.8,201.9 924.7,203.4 925.6,198.7 925.6,200.3 926.5,193.3 927.6,186.7 927.9,186.8 928.4,186.9 929,187.6 929.6,188.3 930.1,188.8 930.7,190.3 931.3,191 931.8,190.5 932.4,192.5 933.3,192.7 934.2,190 934.7,183.1 935.1,187.6 935.8,188.7 936.7,185.3 937.6,183 938.5,183.9 939.1,181.7 939.7,180.7 940.2,181.6 940.8,179.7 941.1,177.1 941.9,177.5 942.5,178.2 943.1,175.8 943.6,176.1 944.2,174.1 945.1,171.4 945.6,170.3 946,172.8 946.6,170.9 947.1,168.6 947.6,167 948.3,168.9 948.8,167.8 949.4,170 950,169.8 950.5,172 951.1,172.3 951.7,175.3 952.2,175.6 952.8,177.1 953.7,177.2 954.6,178.6 955.5,176.4 956.4,174 957.3,171.8 958.2,169.7 959.1,168.1 960,169.7 961,169 961.1,168.1 961.9,167.2 962.5,164.6 963,158.5 963.4,157.3 964.3,155.7 965.3,151.8 965.6,148.2 966.4,147.5 967,143.6 967.5,141.8 968.1,142.4 968.7,140.6 969.5,135.7 969.8,137.5 970.4,136.2 970.9,134 971.5,130.8 972,129.9 972.7,128.3 973.3,122.5 973.6,122.9 974.5,117.7 975.4,115 975.9,112.2 976.6,112.5 977.5,110.9 978.4,106.3 979,104.8 979.5,104.7 979.8,100.8 980.7,105.3 981.2,106 981.8,105.8 982.7,108.5 983.6,111.6 984.5,112.9 985.4,112.8 986.3,111.8 987.2,110.8 987.8,109.6 988.4,110.6 988.8,96.6 989.3,102.4 990.2,94.9 990.7,88.8 991.3,87.5 991.9,85.4 992.4,81.8 992.7,79.8 993.6,78.2 994,73.7 994.7,78.4 995.3,77.7 995.8,79.3 996.7,77.4 997.6,82.2 998.6,86.1 999.5,90.6 1000.4,92.7 1000.9,93.3 1001.5,95.9 1002.4,90.6 1003.3,86.8 1004.2,86.4 1005.1,84.2 1006,83.9 1006.7,86.4 1007.4,88.6 1008.3,84.6 1009.2,81.8 1010.1,78.3 1011,80.3 1011.9,79.8 1012.8,82 1013.7,77.8 1014.4,73.3" fill="none" stroke="#000" stroke-width="2.3" stroke-linejoin="miter"/>
<g fill="#00ff00"><circle cx="190" cy="488.3" r="5.2"/><circle cx="193.5" cy="487.8" r="5.2"/><circle cx="196.5" cy="486.3" r="5.2"/><circle cx="196.9" cy="484.9" r="5.2"/><circle cx="198.6" cy="482.5" r="5.2"/><circle cx="200.3" cy="480.2" r="5.2"/><circle cx="200.7" cy="478" r="5.2"/><circle cx="202" cy="475.5" r="5.2"/><circle cx="203" cy="474" r="5.2"/><circle cx="204.5" cy="472.6" r="5.2"/><circle cx="206" cy="470.5" r="5.2"/><circle cx="208.1" cy="468.9" r="5.2"/><circle cx="209.5" cy="467" r="5.2"/><circle cx="211.9" cy="465.4" r="5.2"/><circle cx="213.3" cy="463.8" r="5.2"/><circle cx="215.8" cy="462.7" r="5.2"/><circle cx="217.7" cy="460.5" r="5.2"/><circle cx="219.7" cy="459.9" r="5.2"/><circle cx="221.8" cy="458" r="5.2"/><circle cx="289.7" cy="457.5" r="5.2"/><circle cx="291" cy="456" r="5.2"/><circle cx="293.4" cy="455.2" r="5.2"/><circle cx="315.7" cy="451.4" r="5.2"/><circle cx="317.5" cy="450" r="5.2"/><circle cx="318.9" cy="449.1" r="5.2"/><circle cx="320.3" cy="447.6" r="5.2"/><circle cx="322.2" cy="446.5" r="5.2"/><circle cx="323.6" cy="444.3" r="5.2"/><circle cx="326.4" cy="445" r="5.2"/><circle cx="328.3" cy="444.3" r="5.2"/><circle cx="331.2" cy="443" r="5.2"/><circle cx="333.1" cy="440.4" r="5.2"/><circle cx="334.7" cy="437.9" r="5.2"/><circle cx="336.2" cy="436.3" r="5.2"/><circle cx="337" cy="434.1" r="5.2"/><circle cx="339.1" cy="432" r="5.2"/><circle cx="340.2" cy="428.6" r="5.2"/><circle cx="341.6" cy="426.5" r="5.2"/><circle cx="343.3" cy="425.4" r="5.2"/><circle cx="361.4" cy="425.4" r="5.2"/><circle cx="363.9" cy="424" r="5.2"/><circle cx="365.4" cy="423.9" r="5.2"/><circle cx="368.5" cy="422.3" r="5.2"/><circle cx="403.1" cy="420.7" r="5.2"/><circle cx="404.8" cy="419" r="5.2"/><circle cx="405.5" cy="416" r="5.2"/><circle cx="407.1" cy="413.6" r="5.2"/><circle cx="477" cy="414.4" r="5.2"/><circle cx="478.9" cy="411.9" r="5.2"/><circle cx="480.2" cy="410.7" r="5.2"/><circle cx="482.4" cy="409" r="5.2"/><circle cx="484.5" cy="409.3" r="5.2"/><circle cx="487.9" cy="408.5" r="5.2"/><circle cx="511.2" cy="406.8" r="5.2"/><circle cx="523.6" cy="403.6" r="5.2"/><circle cx="545.2" cy="403.2" r="5.2"/><circle cx="545.8" cy="400.2" r="5.2"/><circle cx="675.5" cy="400.4" r="5.2"/><circle cx="677.6" cy="398.3" r="5.2"/><circle cx="679.9" cy="396.1" r="5.2"/><circle cx="681.4" cy="394.5" r="5.2"/><circle cx="683.4" cy="392.5" r="5.2"/><circle cx="684.2" cy="390.7" r="5.2"/><circle cx="684.9" cy="388.6" r="5.2"/><circle cx="686.4" cy="387" r="5.2"/><circle cx="709.7" cy="385.3" r="5.2"/><circle cx="726.4" cy="385.7" r="5.2"/><circle cx="729.2" cy="384.3" r="5.2"/><circle cx="731.8" cy="384.2" r="5.2"/><circle cx="751.1" cy="380.7" r="5.2"/><circle cx="752.3" cy="379.6" r="5.2"/><circle cx="755" cy="377.6" r="5.2"/><circle cx="756.7" cy="377" r="5.2"/><circle cx="758.8" cy="375.8" r="5.2"/><circle cx="760.3" cy="375.1" r="5.2"/><circle cx="762" cy="372.9" r="5.2"/><circle cx="765" cy="372" r="5.2"/><circle cx="766.9" cy="369.9" r="5.2"/><circle cx="769.4" cy="368" r="5.2"/><circle cx="770" cy="365.5" r="5.2"/><circle cx="770.7" cy="363.6" r="5.2"/><circle cx="771.4" cy="361" r="5.2"/><circle cx="772.4" cy="358.9" r="5.2"/><circle cx="773.5" cy="356.9" r="5.2"/><circle cx="774.2" cy="353.8" r="5.2"/><circle cx="775.5" cy="351.8" r="5.2"/><circle cx="777.3" cy="350.5" r="5.2"/><circle cx="780" cy="349.3" r="5.2"/><circle cx="790.7" cy="349.8" r="5.2"/><circle cx="790.8" cy="347.2" r="5.2"/><circle cx="791.8" cy="345" r="5.2"/><circle cx="791.7" cy="342.7" r="5.2"/><circle cx="793.2" cy="340.4" r="5.2"/><circle cx="795.2" cy="337.6" r="5.2"/><circle cx="798.3" cy="335.6" r="5.2"/><circle cx="809.9" cy="334.6" r="5.2"/><circle cx="810.3" cy="331.9" r="5.2"/><circle cx="811.1" cy="330.5" r="5.2"/><circle cx="810.6" cy="327.5" r="5.2"/><circle cx="811.4" cy="325.5" r="5.2"/><circle cx="812.3" cy="322.6" r="5.2"/><circle cx="811.9" cy="319.8" r="5.2"/><circle cx="812.9" cy="317.4" r="5.2"/><circle cx="813.4" cy="314.6" r="5.2"/><circle cx="814.2" cy="311.9" r="5.2"/><circle cx="815" cy="309.3" r="5.2"/><circle cx="835.2" cy="308.6" r="5.2"/><circle cx="835.7" cy="307.4" r="5.2"/><circle cx="838.1" cy="305.5" r="5.2"/><circle cx="838.7" cy="303" r="5.2"/><circle cx="840.4" cy="300.6" r="5.2"/><circle cx="840.9" cy="298.9" r="5.2"/><circle cx="855.7" cy="298.1" r="5.2"/><circle cx="857" cy="295.9" r="5.2"/><circle cx="857.9" cy="293.7" r="5.2"/><circle cx="859" cy="291.2" r="5.2"/><circle cx="860.9" cy="290" r="5.2"/><circle cx="874.9" cy="284.8" r="5.2"/><circle cx="876.4" cy="282" r="5.2"/><circle cx="877.1" cy="280.4" r="5.2"/><circle cx="879.5" cy="279.6" r="5.2"/><circle cx="880.8" cy="277.7" r="5.2"/><circle cx="902.2" cy="278.2" r="5.2"/><circle cx="901.8" cy="275.8" r="5.2"/><circle cx="902.3" cy="272.5" r="5.2"/><circle cx="903" cy="270.1" r="5.2"/><circle cx="903.1" cy="268.1" r="5.2"/><circle cx="903.5" cy="264.7" r="5.2"/><circle cx="903.2" cy="262.8" r="5.2"/><circle cx="903.7" cy="259.7" r="5.2"/><circle cx="903.9" cy="256.7" r="5.2"/><circle cx="904.5" cy="255" r="5.2"/><circle cx="904.4" cy="252.4" r="5.2"/><circle cx="905.2" cy="249.4" r="5.2"/><circle cx="906" cy="246.1" r="5.2"/><circle cx="906.1" cy="244.7" r="5.2"/><circle cx="905.6" cy="241.3" r="5.2"/><circle cx="906.6" cy="239" r="5.2"/><circle cx="908" cy="236.5" r="5.2"/><circle cx="910" cy="233.4" r="5.2"/><circle cx="911.1" cy="231.7" r="5.2"/><circle cx="911.8" cy="228.6" r="5.2"/><circle cx="914.2" cy="227.3" r="5.2"/><circle cx="914.8" cy="224.3" r="5.2"/><circle cx="915.1" cy="221.5" r="5.2"/><circle cx="915.7" cy="219.4" r="5.2"/><circle cx="916.6" cy="216.4" r="5.2"/><circle cx="917" cy="214" r="5.2"/><circle cx="917" cy="211.9" r="5.2"/><circle cx="918.4" cy="209.4" r="5.2"/><circle cx="918.1" cy="206.9" r="5.2"/><circle cx="919.2" cy="205.1" r="5.2"/><circle cx="921.2" cy="203.3" r="5.2"/><circle cx="922.8" cy="202" r="5.2"/><circle cx="923.9" cy="200" r="5.2"/><circle cx="925.6" cy="198.5" r="5.2"/><circle cx="925.9" cy="196.5" r="5.2"/><circle cx="926.3" cy="193.5" r="5.2"/><circle cx="926.9" cy="191.8" r="5.2"/><circle cx="926.6" cy="189.1" r="5.2"/><circle cx="927.6" cy="186.9" r="5.2"/><circle cx="930.6" cy="185.5" r="5.2"/><circle cx="932.9" cy="184.9" r="5.2"/><circle cx="934.7" cy="183.3" r="5.2"/><circle cx="936.3" cy="181.6" r="5.2"/><circle cx="939.2" cy="179.6" r="5.2"/><circle cx="941.1" cy="176.9" r="5.2"/><circle cx="942.9" cy="174.8" r="5.2"/><circle cx="943.5" cy="172.7" r="5.2"/><circle cx="945.6" cy="170.4" r="5.2"/><circle cx="947.6" cy="167.2" r="5.2"/><circle cx="961.1" cy="167.8" r="5.2"/><circle cx="961" cy="165" r="5.2"/><circle cx="962.6" cy="162.9" r="5.2"/><circle cx="961.9" cy="161.5" r="5.2"/><circle cx="963" cy="158.8" r="5.2"/><circle cx="963.9" cy="156.7" r="5.2"/><circle cx="964.9" cy="153.8" r="5.2"/><circle cx="965.4" cy="150.4" r="5.2"/><circle cx="965.6" cy="148.5" r="5.2"/><circle cx="966.7" cy="145.4" r="5.2"/><circle cx="967.5" cy="143.9" r="5.2"/><circle cx="967.3" cy="140.5" r="5.2"/><circle cx="968.8" cy="138.6" r="5.2"/><circle cx="969.5" cy="135.6" r="5.2"/><circle cx="969.9" cy="133.2" r="5.2"/><circle cx="971.4" cy="130.3" r="5.2"/><circle cx="971.6" cy="127.7" r="5.2"/><circle cx="972.3" cy="125.2" r="5.2"/><circle cx="973.3" cy="122.7" r="5.2"/><circle cx="974.6" cy="120" r="5.2"/><circle cx="974.9" cy="117.1" r="5.2"/><circle cx="975.5" cy="115.3" r="5.2"/><circle cx="975.9" cy="112.4" r="5.2"/><circle cx="976.7" cy="110.3" r="5.2"/><circle cx="978" cy="107.3" r="5.2"/><circle cx="977.7" cy="105.8" r="5.2"/><circle cx="979.6" cy="103.1" r="5.2"/><circle cx="979.8" cy="100.8" r="5.2"/><circle cx="988.8" cy="96.9" r="5.2"/><circle cx="989" cy="94" r="5.2"/><circle cx="989.6" cy="91.9" r="5.2"/><circle cx="990.7" cy="89.2" r="5.2"/><circle cx="991.5" cy="87.6" r="5.2"/><circle cx="991.4" cy="85" r="5.2"/><circle cx="992.1" cy="82.9" r="5.2"/><circle cx="992.7" cy="80.2" r="5.2"/><circle cx="992.7" cy="77.4" r="5.2"/><circle cx="993.5" cy="75.7" r="5.2"/><circle cx="994" cy="73.7" r="5.2"/></g>
</g>
<g stroke="#000" shape-rendering="crispEdges">
<line x1="176.5" y1="74" x2="176.5" y2="974" stroke-width="1"/>
<line x1="176" y1="494" x2="1013" y2="494" stroke-width="2"/>
<line x1="176" y1="735" x2="1013" y2="735" stroke-width="2"/>
<line x1="176" y1="973.5" x2="1014" y2="973.5" stroke-width="1"/>
<g stroke-width="1"><line x1="167" y1="158.5" x2="176" y2="158.5"/><line x1="167" y1="270.5" x2="176" y2="270.5"/><line x1="167" y1="383.5" x2="176" y2="383.5"/><line x1="167" y1="496.5" x2="176" y2="496.5"/><line x1="167" y1="612.5" x2="176" y2="612.5"/><line x1="167" y1="728.5" x2="176" y2="728.5"/><line x1="167" y1="737.5" x2="176" y2="737.5"/><line x1="167" y1="889.5" x2="176" y2="889.5"/><line x1="177.5" y1="973" x2="177.5" y2="982"/><line x1="283.5" y1="973" x2="283.5" y2="982"/><line x1="390.5" y1="973" x2="390.5" y2="982"/><line x1="497.5" y1="973" x2="497.5" y2="982"/><line x1="603.5" y1="973" x2="603.5" y2="982"/><line x1="711.5" y1="973" x2="711.5" y2="982"/><line x1="817.5" y1="973" x2="817.5" y2="982"/><line x1="924.5" y1="973" x2="924.5" y2="982"/></g>
</g>
<text x="158" y="157.5" text-anchor="end">6,000,000</text><text x="158" y="269.5" text-anchor="end">4,000,000</text><text x="158" y="382.5" text-anchor="end">2,000,000</text><text x="158" y="611.5" text-anchor="end">-200,000</text><text x="158" y="727.5" text-anchor="end">-400,000</text><text x="158" y="888.5" text-anchor="end">-50</text>
<text x="283.5" y="1013" text-anchor="middle">200</text><text x="390.5" y="1013" text-anchor="middle">400</text><text x="497.5" y="1013" text-anchor="middle">600</text><text x="603.5" y="1013" text-anchor="middle">800</text><text x="711.5" y="1013" text-anchor="middle">1,000</text><text x="817.5" y="1013" text-anchor="middle">1,200</text><text x="924.5" y="1013" text-anchor="middle">1,400</text>
<text transform="translate(50,284.5) rotate(-90)" text-anchor="middle" style="font-size:20.8px">權益 (¤)</text>
<text transform="translate(50,616) rotate(-90)" text-anchor="middle" style="font-size:20.8px">最大可能虧損 (¤)</text>
<text transform="translate(50,855.5) rotate(-90)" text-anchor="middle" style="font-size:20.8px">最大可能虧損 (%)</text>
<text x="508" y="1047" text-anchor="middle" style="font-size:21.3px">交易編號</text>
<line x1="245" y1="1071" x2="281" y2="1071" stroke="#000" stroke-width="2"/>
<text x="282" y="1079" style="font-size:20.8px">淨利</text>
<circle cx="369.5" cy="1071" r="5.2" fill="#00ff00"/>
<text x="390" y="1079" style="font-size:20.8px">高點</text>
<rect x="460.5" y="1059" width="33.5" height="24" fill="#ff0000"/>
<text x="498" y="1079" style="font-size:20.8px">平倉交易虧損</text>
<rect x="651.5" y="1059" width="34.5" height="24" fill="#ff0000"/>
<text x="690" y="1079" style="font-size:20.8px">平倉交易虧損<tspan style="font-size:19.6px"> (%)</tspan></text>
</svg>
</body>
</html>
